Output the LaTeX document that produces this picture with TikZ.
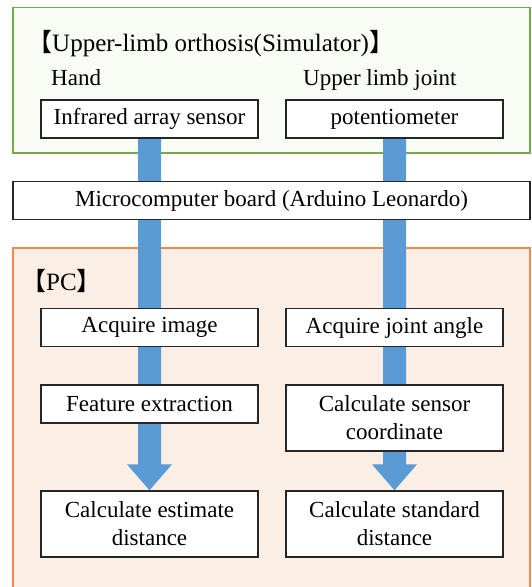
\documentclass[tikz,border=0pt]{standalone}
\usepackage{fontspec}
\setmainfont{Liberation Serif}
\newfontfamily\cjkfont{Noto Sans CJK SC}
\usetikzlibrary{calc}
\definecolor{framegreen}{HTML}{70AD47}
\definecolor{fillgreen}{HTML}{F9FBF5}
\definecolor{frameorange}{HTML}{F08A4B}
\definecolor{fillorange}{HTML}{FAEEE5}
\definecolor{flowblue}{HTML}{5B9BD5}
\pgfdeclarelayer{frames}
\pgfdeclarelayer{flows}
\pgfsetlayers{frames,flows,main}

% broad block arrow from the bottom of one box to the top of another
\newcommand{\flowarrow}[2]{%
  \fill[flowblue]
    ($(#1.south)+(-11.5,0)$) -- ($(#2.north)+(-11.5,-26)$)
    -- ($(#2.north)+(-22.5,-26)$) -- (#2.north)
    -- ($(#2.north)+(22.5,-26)$) -- ($(#2.north)+(11.5,-26)$)
    -- ($(#1.south)+(11.5,0)$) -- cycle;}

\begin{document}
\begin{tikzpicture}[x=1pt,y=-1pt,
  stepbox/.style={draw=black!85, line width=1.4pt, fill=white,
    minimum width=217pt, minimum height=38pt, inner sep=0pt,
    align=center, font=\fontsize{23}{28}\selectfont},
  tallbox/.style={stepbox, minimum height=66pt},
  caption/.style={anchor=base west, inner sep=0pt,
    font=\fontsize{23}{28}\selectfont},
  heading/.style={anchor=base west, inner sep=0pt,
    font=\fontsize{25}{30}\selectfont},
  frame/.style={line width=1.6pt}]
\useasboundingbox (0,0) rectangle (531,587);
\clip (0,0) rectangle (531,587);

% group frames
\begin{pgfonlayer}{frames}
  \draw[frame, draw=framegreen, fill=fillgreen] (13,7.5) rectangle (530,153);
  \draw[frame, draw=frameorange, fill=fillorange] (13,248) rectangle (530,600);
\end{pgfonlayer}

% headings and captions
\node[heading] (simtitle) at (27,51) {{\cjkfont 【}Upper-limb orthosis(Simulator){\cjkfont 】}};
\node[caption] (handcap) at (51,85) {Hand};
\node[caption] (jointcap) at (303,85) {Upper limb joint};
\node[heading] (pctitle) at (21,290) {{\cjkfont 【}PC{\cjkfont 】}};

% sensors
\node[stepbox] (sensor) at (149.5,119) {Infrared array sensor};
\node[stepbox] (pot) at (394.5,119) {potentiometer};

% microcontroller
\node[stepbox, minimum width=517pt] (board) at (271.5,200.5)
  {Microcomputer board (Arduino Leonardo)};

% processing on the PC
\node[stepbox] (acqimg) at (149.5,327.5) {Acquire image};
\node[stepbox] (acqang) at (394.5,327.5) {Acquire joint angle};
\node[stepbox] (feature) at (149.5,404) {Feature extraction};
\node[tallbox] (coord) at (394.5,418) {Calculate sensor\\coordinate};
\node[tallbox] (estdist) at (149.5,524) {Calculate estimate\\distance};
\node[tallbox] (stddist) at (394.5,524) {Calculate standard\\distance};

% data flow
\begin{pgfonlayer}{flows}
  \flowarrow{sensor}{estdist}
  \flowarrow{pot}{stddist}
\end{pgfonlayer}
\end{tikzpicture}
\end{document}
